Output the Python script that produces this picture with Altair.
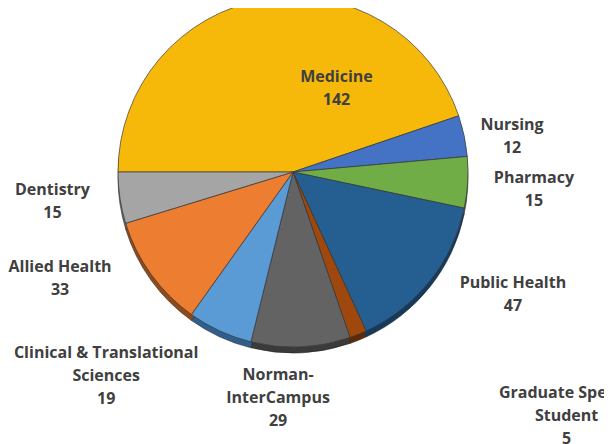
import math
import altair as alt
import pandas as pd

categories = ["Medicine", "Nursing", "Pharmacy", "Public Health", "Graduate Special Student",
              "Norman-InterCampus", "Clinical & Translational Sciences", "Allied Health", "Dentistry"]
values = [142, 12, 15, 47, 5, 29, 19, 33, 15]
label_names = ["Medicine", "Nursing", "Pharmacy", "Public Health", "Graduate Special\nStudent",
               "Norman-\nInterCampus", "Clinical & Translational\nSciences", "Allied Health", "Dentistry"]
colors = ["#F6B90A", "#4472C4", "#70AD47", "#255E91", "#9E480E",
          "#636363", "#5B9BD5", "#ED7D31", "#A5A5A5"]
rim_colors = ["#A07800", "#2A4A85", "#46702C", "#153A5C", "#5E2A08",
              "#3A3A3A", "#2F5F8C", "#8F4A1C", "#666666"]
# label placement (polar, degrees clockwise from top, pixels from pie centre; first text line)
label_angle = [24.6, 77.9, 91.4, 116.8, 128.9, 184.2, 225.9, 247.8, 265.7]
label_radius = [104.5, 224, 241, 246.4, 351.6, 203.6, 260.2, 251.6, 241.2]

df = pd.DataFrame({
    "idx": list(range(len(categories))),
    "category": categories,
    "value": values,
    "label": [f"{n}\n{v}" for n, v in zip(label_names, values)],
    "label_angle": label_angle,
    "label_radius": label_radius,
})

W, H = 570, 328
R = 175

theta_scale = alt.Scale(range=[-math.pi / 2, 3 * math.pi / 2])
color_scale = alt.Scale(domain=categories, range=colors)
rim_scale = alt.Scale(domain=categories, range=rim_colors)

rim = alt.Chart(df).mark_arc(outerRadius=R, stroke="#222222", strokeWidth=0.5).encode(
    theta=alt.Theta("value:Q", stack=True, scale=theta_scale),
    order=alt.Order("idx:Q"),
    color=alt.Color("category:N", scale=rim_scale, legend=None),
    x=alt.value(W / 2),
    y=alt.value(H / 2 + 6),
)

pie = alt.Chart(df).mark_arc(outerRadius=R, stroke="#3a3a3a", strokeWidth=0.7).encode(
    theta=alt.Theta("value:Q", stack=True, scale=theta_scale),
    order=alt.Order("idx:Q"),
    color=alt.Color("category:N", scale=color_scale, legend=None),
    x=alt.value(W / 2),
    y=alt.value(H / 2),
)

labels = alt.Chart(df).mark_text(
    lineBreak="\n", font="Open Sans", fontSize=16, fontWeight="bold", color="#404040",
    align="center", baseline="middle", lineHeight=23,
).encode(
    theta=alt.Theta("label_angle:Q", scale=alt.Scale(domain=[0, 360], range=[0, 2 * math.pi])),
    radius=alt.Radius("label_radius:Q", scale=None),
    text="label:N",
)

chart = alt.layer(rim, pie, labels).resolve_scale(
    theta="independent", color="independent"
).properties(
    width=W, height=H,
    autosize=alt.AutoSizeParams(type="none"),
    padding={"left": 0, "top": 0, "right": 596 - W, "bottom": 436 - H},
).configure_view(stroke=None)

chart.save("out.html", embed_options={"renderer": "svg", "actions": False})
